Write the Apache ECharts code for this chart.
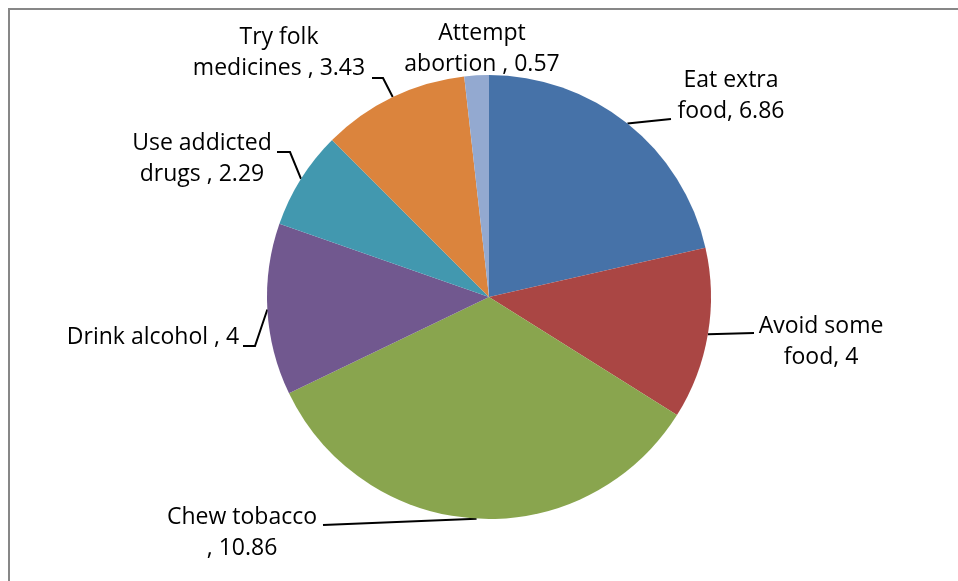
<!DOCTYPE html>
<html>
<head>
<meta charset="utf-8">
<script src="https://cdn.jsdelivr.net/npm/echarts@6/dist/echarts.min.js"></script>
<style>
  html, body { margin: 0; padding: 0; background: #fff; }
  #chart { width: 958px; height: 581px; }
</style>
</head>
<body>
<div id="chart"></div>
<script>
// Slices, clockwise from 12 o'clock
const categories = [
  'Eat extra food',
  'Avoid some food',
  'Chew tobacco',
  'Drink alcohol',
  'Use addicted drugs',
  'Try folk medicines',
  'Attempt abortion'
];
const values = [6.86, 4, 10.86, 4, 2.29, 3.43, 0.57];

// Label text as printed (name part, value is appended)
const labelHeads = [
  'Eat extra\nfood, ',
  'Avoid some\nfood, ',
  'Chew tobacco\n, ',
  'Drink alcohol , ',
  'Use addicted\ndrugs , ',
  'Try folk\nmedicines , ',
  'Attempt\nabortion , '
];

const sliceColors = ['#4672A8', '#AA4644', '#89A54E', '#71588F', '#4298AF', '#DB843D', '#93A9D0'];

// Label centres and the elbow points of their leader lines
const labelSpots = [
  { x: 731, y: 96,  line: [[671, 119]] },
  { x: 821, y: 342, line: [[754, 333]] },
  { x: 242, y: 533, line: [[323, 525]] },
  { x: 153, y: 337, line: [[255, 346], [243, 346]] },
  { x: 202, y: 159, line: [[290, 152], [277, 152]] },
  { x: 279, y: 53,  line: [[383, 78], [372, 78]] },
  { x: 482, y: 49,  line: null }
];

const chart = echarts.init(document.getElementById('chart'), null, { renderer: 'canvas' });

chart.setOption({
  animation: false,
  backgroundColor: '#ffffff',
  graphic: [{
    type: 'rect',
    shape: { x: 9, y: 9, width: 1200, height: 1200 },
    style: { fill: 'none', stroke: '#878787', lineWidth: 2 },
    silent: true,
    z: -1
  }],
  series: [{
    type: 'pie',
    center: [489, 297],
    radius: 222,
    startAngle: 90,
    clockwise: true,
    avoidLabelOverlap: false,
    itemStyle: { borderWidth: 0 },
    label: {
      show: true,
      position: 'outside',
      color: '#000',
      fontFamily: 'Open Sans',
      fontSize: 23,
      lineHeight: 31,
      align: 'center',
      formatter: p => labelHeads[p.dataIndex] + String(p.value)
    },
    labelLine: {
      show: true,
      smooth: false,
      lineStyle: { color: '#000', width: 2 }
    },
    labelLayout: function (p) {
      const s = labelSpots[p.dataIndex];
      const out = { x: s.x, y: s.y, align: 'center', verticalAlign: 'middle', moveOverlap: false, hideOverlap: false };
      if (s.line && p.labelLinePoints) {
        out.labelLinePoints = [p.labelLinePoints[0]].concat(s.line);
      }
      return out;
    },
    data: categories.map((name, i) => ({
      name: name,
      value: values[i],
      itemStyle: { color: sliceColors[i] },
      labelLine: { show: labelSpots[i].line !== null }
    }))
  }]
});
</script>
</body>
</html>
